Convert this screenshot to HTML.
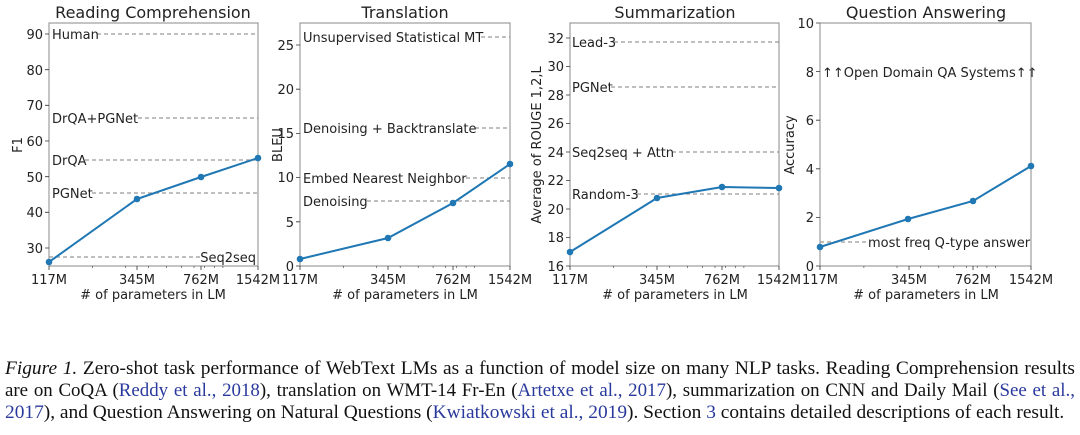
<!DOCTYPE html>
<html><head><meta charset="utf-8"><style>
body{margin:0;background:#fff;width:1080px;height:435px;overflow:hidden;position:relative}
svg{position:absolute;left:0;top:0}
.cap{position:absolute;left:5px;width:1070px;font-family:"Liberation Serif",serif;font-size:19.4px;line-height:22px;color:#111;white-space:nowrap}
.j{text-align:justify;text-align-last:justify;white-space:normal}
.b{color:#2a3a9c}
</style></head><body>
<svg width="1080" height="320" font-family="DejaVu Sans, Liberation Sans, sans-serif" fill="#222">
<g font-size="16" text-anchor="middle">
<text x="153" y="18">Reading Comprehension</text>
<text x="405" y="18">Translation</text>
<text x="675" y="18">Summarization</text>
<text x="926" y="18">Question Answering</text>
</g>
<g stroke="#999" stroke-width="1.2" stroke-dasharray="4,3" fill="none">
<line x1="97" y1="34" x2="258" y2="34"/>
<line x1="138" y1="118" x2="258" y2="118"/>
<line x1="85" y1="160" x2="258" y2="160"/>
<line x1="92" y1="193" x2="258" y2="193"/>
<line x1="49" y1="257" x2="200" y2="257"/>
<line x1="481" y1="37" x2="510" y2="37"/>
<line x1="475" y1="128" x2="510" y2="128"/>
<line x1="466" y1="178" x2="510" y2="178"/>
<line x1="367" y1="201" x2="510" y2="201"/>
<line x1="614" y1="42" x2="779" y2="42"/>
<line x1="611" y1="87" x2="779" y2="87"/>
<line x1="672" y1="152" x2="779" y2="152"/>
<line x1="637" y1="194" x2="779" y2="194"/>
<line x1="820" y1="242" x2="866" y2="242"/>
</g>
<g font-size="13">
<text x="52" y="39">Human</text>
<text x="52" y="123">DrQA+PGNet</text>
<text x="52" y="165">DrQA</text>
<text x="52" y="198">PGNet</text>
<text x="256" y="262" text-anchor="end">Seq2seq</text>
<text x="303" y="42">Unsupervised Statistical MT</text>
<text x="303" y="133">Denoising + Backtranslate</text>
<text x="303" y="183">Embed Nearest Neighbor</text>
<text x="303" y="206">Denoising</text>
<text x="572" y="47">Lead-3</text>
<text x="572" y="92">PGNet</text>
<text x="572" y="157">Seq2seq + Attn</text>
<text x="572" y="199">Random-3</text>
<text x="822" y="77">↑↑Open Domain QA Systems↑↑</text>
<text x="868" y="247">most freq Q-type answer</text>
</g>
<g stroke="#888" stroke-width="1" fill="none">
<rect x="49" y="23" width="209" height="243"/>
<rect x="300" y="23" width="210" height="243"/>
<rect x="570" y="23" width="209" height="243"/>
<rect x="820" y="23" width="211" height="243"/>
</g>
<g stroke="#333" stroke-width="0.8">
<path d="M45 248h4M45 212.3h4M45 176.7h4M45 141h4M45 105.3h4M45 69.7h4M45 34h4"/>
<path d="M296 266h4M296 221.8h4M296 177.6h4M296 133.4h4M296 89.2h4M296 45h4"/>
<path d="M566 266h4M566 237.5h4M566 209h4M566 180.5h4M566 152h4M566 123.5h4M566 95h4M566 66.5h4M566 38h4"/>
<path d="M816 266h4M816 217.4h4M816 168.8h4M816 120.2h4M816 71.6h4M816 23h4"/>
<path d="M49 266v4M137 266v4M201 266v4M258 266v4M300 266v4M388 266v4M453 266v4M510 266v4M570 266v4M657 266v4M722 266v4M779 266v4M820 266v4M909 266v4M973 266v4M1031 266v4"/>
<path stroke-width="0.6" d="M92.5 266v2M125.3 266v2M148.7 266v2M166.7 266v2M181.5 266v2M194 266v2M204.7 266v2M214.3 266v2M222.9 266v2M343.7 266v2M376.7 266v2M400.2 266v2M418.2 266v2M433.1 266v2M445.7 266v2M456.5 266v2M466.1 266v2M474.7 266v2M613.5 266v2M646.3 266v2M669.7 266v2M687.7 266v2M702.5 266v2M715 266v2M725.7 266v2M735.3 266v2M743.9 266v2M863.9 266v2M897 266v2M920.6 266v2M938.8 266v2M953.8 266v2M966.4 266v2M977.2 266v2M986.9 266v2M995.6 266v2"/>
</g>
<g font-size="13" text-anchor="end">
<text x="43" y="253">30</text><text x="43" y="217">40</text><text x="43" y="182">50</text><text x="43" y="146">60</text><text x="43" y="110">70</text><text x="43" y="75">80</text><text x="43" y="39">90</text>
<text x="294" y="271">0</text><text x="294" y="227">5</text><text x="294" y="182">10</text><text x="294" y="138">15</text><text x="294" y="94">20</text><text x="294" y="50">25</text>
<text x="564" y="271">16</text><text x="564" y="242">18</text><text x="564" y="214">20</text><text x="564" y="185">22</text><text x="564" y="157">24</text><text x="564" y="128">26</text><text x="564" y="100">28</text><text x="564" y="71">30</text><text x="564" y="43">32</text>
<text x="814" y="271">0</text><text x="814" y="222">2</text><text x="814" y="174">4</text><text x="814" y="125">6</text><text x="814" y="77">8</text><text x="814" y="28">10</text>
</g>
<g font-size="13" text-anchor="middle">
<text x="49" y="284">117M</text><text x="137" y="284">345M</text><text x="201" y="284">762M</text><text x="258" y="284">1542M</text>
<text x="300" y="284">117M</text><text x="388" y="284">345M</text><text x="453" y="284">762M</text><text x="510" y="284">1542M</text>
<text x="570" y="284">117M</text><text x="657" y="284">345M</text><text x="722" y="284">762M</text><text x="779" y="284">1542M</text>
<text x="820" y="284">117M</text><text x="909" y="284">345M</text><text x="973" y="284">762M</text><text x="1031" y="284">1542M</text>
<text x="153" y="299"># of parameters in LM</text><text x="405" y="299"># of parameters in LM</text><text x="675" y="299"># of parameters in LM</text><text x="926" y="299"># of parameters in LM</text>
<text transform="translate(22,145) rotate(-90)">F1</text>
<text transform="translate(282,145) rotate(-90)">BLEU</text>
<text transform="translate(541,145) rotate(-90)">Average of ROUGE 1,2,L</text>
<text transform="translate(794,145) rotate(-90)">Accuracy</text>
</g>
<g stroke="#1f77b4" stroke-width="2" fill="none">
<polyline points="49,262 137,199 201,177 258,158"/>
<polyline points="300,259 388,238 453,203 510,164"/>
<polyline points="570,252 657,198 722,187 779,188"/>
<polyline points="820,247 908,219 973,201 1031,166"/>
</g>
<g fill="#1f77b4">
<circle cx="49" cy="262" r="3.3"/><circle cx="137" cy="199" r="3.3"/><circle cx="201" cy="177" r="3.3"/><circle cx="258" cy="158" r="3.3"/>
<circle cx="300" cy="259" r="3.3"/><circle cx="388" cy="238" r="3.3"/><circle cx="453" cy="203" r="3.3"/><circle cx="510" cy="164" r="3.3"/>
<circle cx="570" cy="252" r="3.3"/><circle cx="657" cy="198" r="3.3"/><circle cx="722" cy="187" r="3.3"/><circle cx="779" cy="188" r="3.3"/>
<circle cx="820" cy="247" r="3.3"/><circle cx="908" cy="219" r="3.3"/><circle cx="973" cy="201" r="3.3"/><circle cx="1031" cy="166" r="3.3"/>
</g>
</svg>
<div class="cap j" style="top:358px"><i>Figure 1.</i> Zero-shot task performance of WebText LMs as a function of model size on many NLP tasks. Reading Comprehension results</div>
<div class="cap j" style="top:380px;font-size:18.9px">are on CoQA (<span class="b">Reddy et al., 2018</span>), translation on WMT-14 Fr-En (<span class="b">Artetxe et al., 2017</span>), summarization on CNN and Daily Mail (<span class="b">See et al.,</span></div>
<div class="cap" style="top:402px"><span class="b">2017</span>), and Question Answering on Natural Questions (<span class="b">Kwiatkowski et al., 2019</span>). Section <span class="b">3</span> contains detailed descriptions of each result.</div>
</body></html>
